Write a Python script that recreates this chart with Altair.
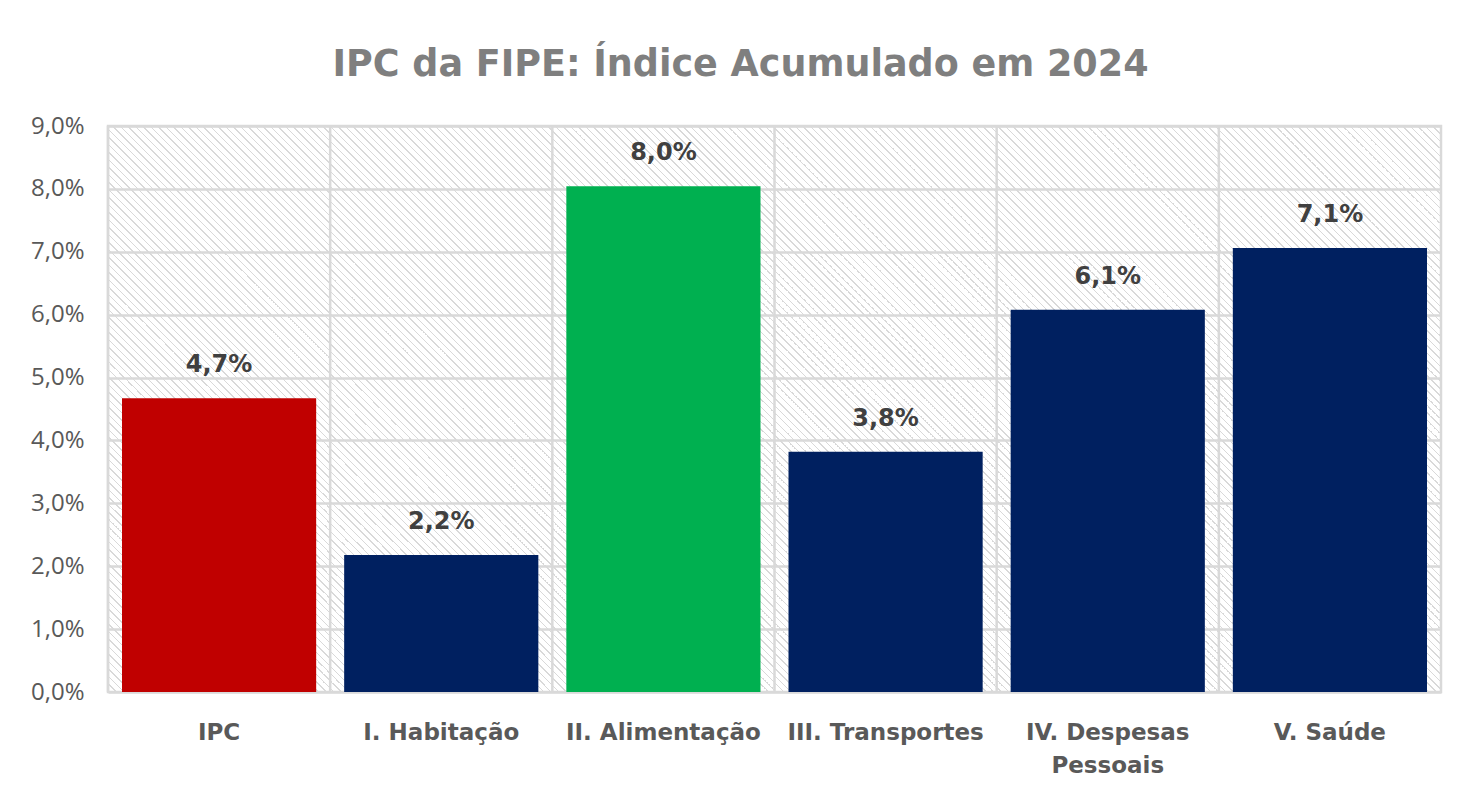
import altair as alt
import pandas as pd

# ---- data ----
categorias = ["IPC", "I. Habitação", "II. Alimentação", "III. Transportes",
              "IV. Despesas Pessoais", "V. Saúde"]
valores = [0.0467, 0.0218, 0.0804, 0.0382, 0.0608, 0.0706]
y_ticks = [0.0, 0.01, 0.02, 0.03, 0.04, 0.05, 0.06, 0.07, 0.08, 0.09]
cores = ["#c00000", "#002060", "#00b050", "#002060", "#002060", "#002060"]

df = pd.DataFrame({"categoria": categorias, "valor": valores})

W, H = 1333, 566
P_IN, P_OUT = 0.126, 0.063
STEP = W / (len(categorias) - P_IN + 2 * P_OUT)
GAP = STEP * P_IN
GRID = "#d9d9d9"

# ---- hatch background (diagonal stripes, transparent gaps) ----
period = 7.5
stripe = 1.5
span = W + H
s = span / (W * W + H * H)
stops = []
k = 0
while k * period < span:
    a = k * period / span
    b = min((k * period + stripe) / span, 1.0)
    c = min((k + 1) * period / span, 1.0)
    stops.append({"offset": a, "color": "#d9d9d9"})
    stops.append({"offset": b, "color": "#d9d9d9"})
    stops.append({"offset": b, "color": "rgba(255,255,255,0)"})
    stops.append({"offset": c, "color": "rgba(255,255,255,0)"})
    k += 1

hatch = alt.Chart(alt.Data(values=[{"bg": 1}])).mark_rect(
    fill=alt.LinearGradient(gradient="linear", stops=stops,
                            x1=0, y1=1, x2=s * W, y2=1 - s * H),
    strokeWidth=0,
).encode(
    x=alt.value(0), x2=alt.value(W), y=alt.value(0), y2=alt.value(H)
)

x_scale = alt.Scale(paddingInner=P_IN, paddingOuter=P_OUT)
x_axis = alt.Axis(
    title=None, labelAngle=0, grid=False, ticks=False, domain=False,
    labelFont="DejaVu Sans", labelFontSize=23, labelFontWeight="bold",
    labelColor="#595959", labelPadding=29, labelLineHeight=33, labelLimit=400,
    labelExpr="datum.label == 'IV. Despesas Pessoais' ? ['IV. Despesas', 'Pessoais'] : datum.label",
)
y_scale = alt.Scale(domain=[0, 0.09], nice=False)
y_axis = alt.Axis(
    title=None, format=".1%", values=y_ticks, grid=True,
    gridColor=GRID, gridWidth=2.5, ticks=False, domain=False,
    labelFont="Open Sans", labelFontSize=24, labelColor="#595959",
    labelPadding=24,
)

# vertical separators between categories
vlines = alt.Chart(df).mark_rule(color=GRID, strokeWidth=2.5, xOffset=-GAP / 2).encode(
    x=alt.X("categoria:N", sort=categorias, bandPosition=0, scale=x_scale, axis=x_axis),
    y=alt.value(0), y2=alt.value(H),
)

base = alt.Chart(df).encode(
    x=alt.X("categoria:N", sort=categorias, scale=x_scale, axis=x_axis),
    y=alt.Y("valor:Q", scale=y_scale, axis=y_axis),
)

bars = base.mark_bar().encode(
    color=alt.Color("categoria:N", scale=alt.Scale(domain=categorias, range=cores),
                    legend=None)
)

labels = base.mark_text(
    font="DejaVu Sans", fontSize=24, fontWeight="bold", color="#404040",
    baseline="alphabetic", dy=-26,
).encode(text=alt.Text("valor:Q", format=".1%"))

chart = alt.layer(hatch, vlines, bars, labels).properties(
    width=W, height=H,
    title=alt.TitleParams(
        "IPC da FIPE: Índice Acumulado em 2024",
        font="DejaVu Sans", fontSize=36.5, fontWeight="bold", color="#7f7f7f",
        anchor="middle", dx=-34, offset=2, baseline="alphabetic",
    ),
    autosize=alt.AutoSizeParams(type="none"),
    padding={"left": 100, "top": 118, "right": 10, "bottom": 100},
).configure(
    locale={"number": {"decimal": ",", "thousands": ".", "grouping": [3],
                       "currency": ["R$ ", ""]}},
).configure_view(
    stroke=GRID, strokeWidth=2.5, fill="white",
)

chart.save("out.html", embed_options={"renderer": "svg", "actions": False})
